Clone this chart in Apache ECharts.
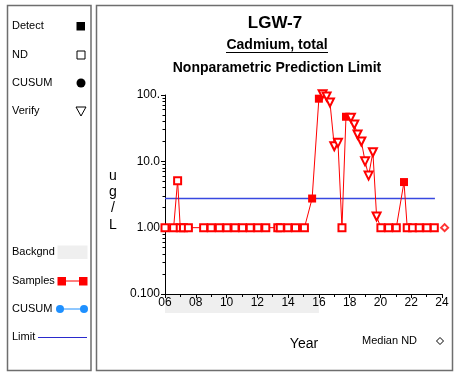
<!DOCTYPE html>
<html>
<head>
<meta charset="utf-8">
<script src="https://cdn.jsdelivr.net/npm/echarts@6/dist/echarts.min.js"></script>
<style>
  html, body { margin: 0; padding: 0; background: #fff; }
  #chart { width: 455px; height: 374px; }
</style>
</head>
<body>
<div id="chart"></div>
<script>
// sample dates (decimal years), values (ug/L) and kind: D = detect, N = non-detect, V = verify
const sampleYears = [
  2006.00, 2006.56, 2006.82, 2006.99, 2007.20, 2007.52,
  2008.51, 2009.00, 2009.53, 2010.03, 2010.55, 2011.04, 2011.54, 2012.03, 2012.55,
  2013.33, 2013.49, 2013.98, 2014.48, 2015.06,
  2015.56, 2016.00, 2016.24, 2016.50, 2016.72, 2017.00, 2017.24, 2017.50,
  2017.76, 2018.08, 2018.30, 2018.51, 2018.76, 2019.00, 2019.23, 2019.51, 2019.75,
  2020.03, 2020.53, 2021.03, 2021.53, 2021.74, 2022.09, 2022.52, 2023.02, 2023.50
];
const sampleValues = [
  1, 1, 5.1, 1, 1, 1,
  1, 1, 1, 1, 1, 1, 1, 1, 1,
  1, 1, 1, 1, 1,
  2.75, 88, 103, 95, 77, 16.9, 19, 1,
  47, 45.5, 36, 25.4, 19.9, 10, 6.1, 13.7, 1.47,
  1, 1, 1, 4.87, 1, 1, 1, 1, 1
];
const sampleKinds = [
  'N', 'N', 'N', 'N', 'N', 'N',
  'N', 'N', 'N', 'N', 'N', 'N', 'N', 'N', 'N',
  'N', 'N', 'N', 'N', 'N',
  'D', 'D', 'V', 'V', 'V', 'V', 'V', 'N',
  'D', 'V', 'V', 'V', 'V', 'V', 'V', 'V', 'V',
  'N', 'N', 'N', 'D', 'N', 'N', 'N', 'N', 'N'
];
const limitYears = [2006.0, 2023.54];
const limitValue = 2.75;
const medianNDYear = 2024.17;
const medianNDValue = 1;
const backgroundYears = [2006, 2016];
const yTickLabels = ['0.100', '1.00', '10.0', '100.'];
const yMinorTicks = [0.2, 0.3, 0.4, 0.5, 0.6, 0.7, 0.8, 0.9, 2, 3, 4, 5, 6, 7, 8, 9, 20, 30, 40, 50, 60, 70, 80, 90];

const RED = '#ff0000';
const FONT = 'Liberation Sans, Arial, sans-serif';

const kindStyle = {
  D: { symbol: 'rect', symbolSize: 8, symbolRotate: 0, itemStyle: { color: RED, borderWidth: 0 } },
  N: { symbol: 'emptyRect', symbolSize: 7, symbolRotate: 0, itemStyle: { color: RED, borderWidth: 1 } },
  V: { symbol: 'emptyTriangle', symbolSize: 8, symbolRotate: 180, itemStyle: { color: RED, borderWidth: 1 } }
};

const sampleData = sampleYears.map((yr, i) => Object.assign({ value: [yr, sampleValues[i]] }, kindStyle[sampleKinds[i]]));

const chart = echarts.init(document.getElementById('chart'));

// plain text helper for the page furniture
const label = (text, x, y, font, align) => ({
  type: 'text', x: x, y: y, silent: true,
  style: { text: text, font: font, fill: '#000', textAlign: align || 'left', textVerticalAlign: 'middle' }
});
const legendText = (text, y) => label(text, 12, y, '11px ' + FONT);

const option = {
  animation: false,
  backgroundColor: '#fff',
  grid: [
    { left: 165, top: 95, width: 277, height: 199 },
    { left: 165, top: 294, width: 277, height: 19 }
  ],
  xAxis: [
    {
      gridIndex: 0, type: 'value', min: 2006, max: 2024, interval: 2, z: 10,
      axisLine: { lineStyle: { color: '#000', width: 1 } },
      axisTick: { length: 4, lineStyle: { color: '#000' } },
      minorTick: { show: true, splitNumber: 2, length: 3, lineStyle: { color: '#000' } },
      axisLabel: {
        color: '#000', fontSize: 12, fontFamily: FONT, margin: 3,
        formatter: v => String(Math.round(v)).slice(2)
      },
      splitLine: { show: false }
    },
    { gridIndex: 1, type: 'value', min: 2006, max: 2024, show: false }
  ],
  yAxis: [
    {
      gridIndex: 0, type: 'log', logBase: 10, min: 0.1, max: 100, position: 'left',
      axisLine: { show: true, lineStyle: { color: '#000', width: 1 } },
      axisTick: { show: true, length: 4, lineStyle: { color: '#000' } },
      axisLabel: {
        color: '#000', fontSize: 12, fontFamily: FONT, margin: 5,
        formatter: v => yTickLabels[Math.round(Math.log10(v)) + 1]
      },
      splitLine: { show: false }
    },
    {
      gridIndex: 0, type: 'log', logBase: 10, min: 0.1, max: 100, position: 'left', offset: 0,
      axisLine: { show: false },
      axisTick: { show: true, length: 2.5, customValues: yMinorTicks, lineStyle: { color: '#000' } },
      axisLabel: { show: false },
      splitLine: { show: false }
    },
    { gridIndex: 1, type: 'value', min: 0, max: 1, show: false }
  ],
  series: [
    {
      name: 'Backgnd', type: 'line', xAxisIndex: 1, yAxisIndex: 2, data: [], z: 1,
      markArea: {
        silent: true,
        itemStyle: { color: '#efefef' },
        data: [[{ xAxis: backgroundYears[0] }, { xAxis: backgroundYears[1] }]]
      }
    },
    {
      name: 'Limit', type: 'line', xAxisIndex: 0, yAxisIndex: 0,
      data: limitYears.map(x => [x, limitValue]),
      symbol: 'none', lineStyle: { color: '#3848e0', width: 1.3 }, z: 2
    },
    {
      name: 'Samples', type: 'line', xAxisIndex: 0, yAxisIndex: 0,
      data: sampleData, clip: false, z: 3,
      lineStyle: { color: RED, width: 1 },
      itemStyle: { color: RED }
    },
    {
      name: 'Median ND', type: 'scatter', xAxisIndex: 0, yAxisIndex: 0,
      data: [[medianNDYear, medianNDValue]], clip: false,
      symbol: 'emptyDiamond', symbolSize: 7,
      itemStyle: { color: RED, borderWidth: 1 }
    }
  ],
  graphic: [
    // panel frames
    { type: 'rect', silent: true, shape: { x: 7.5, y: 5.5, width: 83.5, height: 365 }, style: { fill: 'none', stroke: '#6e6e6e', lineWidth: 1.5 } },
    { type: 'rect', silent: true, shape: { x: 96.5, y: 5.5, width: 356, height: 365 }, style: { fill: 'none', stroke: '#6e6e6e', lineWidth: 1.5 } },
    // titles
    label('LGW-7', 275, 23, 'bold 17px ' + FONT, 'center'),
    label('Cadmium, total', 277, 45, 'bold 14px ' + FONT, 'center'),
    { type: 'line', silent: true, shape: { x1: 226, y1: 52.5, x2: 328, y2: 52.5 }, style: { stroke: '#000', lineWidth: 1 } },
    label('Nonparametric Prediction Limit', 277, 68, 'bold 14px ' + FONT, 'center'),
    // y axis name
    label('u', 113, 176, '14px ' + FONT, 'center'),
    label('g', 113, 192, '14px ' + FONT, 'center'),
    label('/', 113, 208, '14px ' + FONT, 'center'),
    label('L', 113, 225, '14px ' + FONT, 'center'),
    // x axis name and median ND key
    label('Year', 304, 344, '14px ' + FONT, 'center'),
    label('Median ND', 362, 341, '11px ' + FONT),
    { type: 'polygon', silent: true, shape: { points: [[440, 337.5], [443.5, 341], [440, 344.5], [436.5, 341]] }, style: { fill: '#fff', stroke: '#000', lineWidth: 1 } },
    // legend panel
    legendText('Detect', 26),
    { type: 'rect', silent: true, shape: { x: 76.5, y: 22, width: 8.5, height: 8.5 }, style: { fill: '#000' } },
    legendText('ND', 55),
    { type: 'rect', silent: true, shape: { x: 77, y: 51, width: 8, height: 8 }, style: { fill: '#fff', stroke: '#000', lineWidth: 1 } },
    legendText('CUSUM', 83),
    { type: 'circle', silent: true, shape: { cx: 81, cy: 83, r: 4.5 }, style: { fill: '#000' } },
    legendText('Verify', 111),
    { type: 'polygon', silent: true, shape: { points: [[76, 107], [86, 107], [81, 116]] }, style: { fill: '#fff', stroke: '#000', lineWidth: 1 } },
    legendText('Backgnd', 252),
    { type: 'rect', silent: true, shape: { x: 57.5, y: 245.5, width: 30, height: 13.5 }, style: { fill: '#efefef' } },
    legendText('Samples', 281),
    { type: 'line', silent: true, shape: { x1: 62, y1: 281, x2: 83, y2: 281 }, style: { stroke: RED, lineWidth: 1 } },
    { type: 'rect', silent: true, shape: { x: 57.5, y: 277, width: 8.5, height: 8.5 }, style: { fill: RED } },
    { type: 'rect', silent: true, shape: { x: 79, y: 277, width: 8.5, height: 8.5 }, style: { fill: RED } },
    legendText('CUSUM', 309),
    { type: 'line', silent: true, shape: { x1: 60, y1: 309, x2: 84, y2: 309 }, style: { stroke: '#1e90ff', lineWidth: 1 } },
    { type: 'circle', silent: true, shape: { cx: 60, cy: 309, r: 4 }, style: { fill: '#1e90ff' } },
    { type: 'circle', silent: true, shape: { cx: 84, cy: 309, r: 4 }, style: { fill: '#1e90ff' } },
    legendText('Limit', 337),
    { type: 'line', silent: true, shape: { x1: 38, y1: 337.5, x2: 87, y2: 337.5 }, style: { stroke: '#2a2acc', lineWidth: 1 } }
  ]
};

chart.setOption(option);
</script>
</body>
</html>
